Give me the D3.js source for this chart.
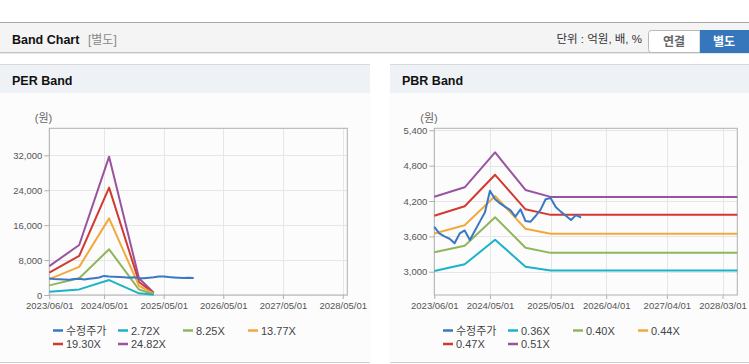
<!DOCTYPE html>
<html><head><meta charset="utf-8">
<script src="https://cdn.jsdelivr.net/npm/d3@7"></script>
<style>
html,body{margin:0;padding:0;background:#fff;}
svg{display:block;font-family:"Liberation Sans","Noto Sans CJK KR",sans-serif;}
</style></head>
<body><svg id="c" width="749" height="364"></svg>
<script>
// ---------- data ----------
const priceDates = ["2023-06-01","2023-07-01","2023-08-01","2023-09-01","2023-10-01","2023-11-01","2023-12-01","2024-01-01","2024-02-01","2024-03-01","2024-04-01","2024-05-01","2024-06-01","2024-07-01","2024-08-01","2024-09-01","2024-10-01","2024-11-01","2024-12-01","2025-01-01","2025-02-01","2025-03-01","2025-04-01","2025-05-01","2025-06-01","2025-07-01","2025-08-01","2025-09-01","2025-10-01","2025-11-01"];
const priceValues = [3760,3650,3600,3560,3482,3650,3700,3538,3700,3850,4010,4375,4230,4160,4100,4047,3934,4060,3860,3849,3950,4050,4230,4250,4100,4020,3950,3878,3960,3917];

const perDates = ["2023-06-01","2023-12-01","2024-06-01","2024-12-01","2025-03-01"];
const per272 = [740,1280,3420,380,60];
const per825 = [2200,3850,10470,1250,170];
const per1377 = [3650,6450,17560,2100,290];
const per1930 = [5130,8940,24600,2980,400];
const per2482 = [6620,11460,31700,3830,530];

const pbrDates = ["2023-06-01","2023-12-01","2024-06-01","2024-12-01","2025-05-01","2028-05-29"];
const pbr036 = [3012,3126,3543,3085,3020,3020];
const pbr040 = [3330,3442,3925,3408,3320,3320];
const pbr044 = [3650,3788,4285,3730,3645,3645];
const pbr047 = [3950,4110,4645,4059,3965,3965];
const pbr051 = [4273,4433,5025,4387,4270,4270];

const perTicksY = [0,8000,16000,24000,32000];
const pbrTicksY = [3000,3600,4200,4800,5400];
const perTicksX = ["2023-06-01","2024-05-01","2025-05-01","2026-05-01","2027-05-01","2028-05-01"];
const pbrTicksX = ["2023-06-01","2024-05-01","2025-05-01","2026-04-01","2027-04-01","2028-03-01"];
const xStart = "2023-06-01", xEnd = "2028-05-29";

const perLegend = ["수정주가","2.72X","8.25X","13.77X","19.30X","24.82X"];
const pbrLegend = ["수정주가","0.36X","0.40X","0.44X","0.47X","0.51X"];
const colors = ["#3a78c3","#1cb2c8","#8fb65a","#f2a93b","#d23a2f","#9954a0"];

// ---------- drawing ----------
const parse = d3.timeParse("%Y-%m-%d");
const fmtX = d3.timeFormat("%Y/%m/%d");
const svg = d3.select("#c");

// top header bar
svg.append("rect").attr("x",0).attr("y",22).attr("width",749).attr("height",31).attr("fill","#f4f4f4");
svg.append("line").attr("x1",0).attr("x2",749).attr("y1",22.5).attr("y2",22.5).attr("stroke","#a8a8a8");
svg.append("line").attr("x1",0).attr("x2",749).attr("y1",52.5).attr("y2",52.5).attr("stroke","#c4c4c4");
svg.append("line").attr("x1",0).attr("x2",749).attr("y1",53.5).attr("y2",53.5).attr("stroke","#e8e8e8");
svg.append("text").attr("x",12).attr("y",43.5).attr("font-size","12.5px").attr("font-weight","bold").attr("fill","#111").text("Band Chart");
svg.append("text").attr("x",88).attr("y",43.5).attr("font-size","12px").attr("fill","#888").text("[별도]");
svg.append("text").attr("x",642).attr("y",43).attr("text-anchor","end").attr("font-size","11.5px").attr("fill","#333").text("단위 : 억원, 배, %");
svg.append("path").attr("d","M700,30.5 H651.5 Q648.5,30.5 648.5,33.5 V49.5 Q648.5,52.5 651.5,52.5 H700 Z").attr("fill","#fff").attr("stroke","#b8b8b8");
svg.append("text").attr("x",674).attr("y",45.5).attr("text-anchor","middle").attr("font-size","12px").attr("font-weight","bold").attr("fill","#666").text("연결");
svg.append("rect").attr("x",700).attr("y",30).attr("width",49).attr("height",23).attr("fill","#3677bb");
svg.append("text").attr("x",724).attr("y",45.5).attr("text-anchor","middle").attr("font-size","12px").attr("font-weight","bold").attr("fill","#fff").text("별도");

function panel(px, pw, title, cfg){
  const g = svg.append("g");
  g.append("rect").attr("x",px).attr("y",64).attr("width",pw).attr("height",300).attr("fill","#fcfcfd");
  g.append("rect").attr("x",px).attr("y",65).attr("width",pw).attr("height",28).attr("fill","#eef2f7");
  g.append("line").attr("x1",px).attr("x2",px+pw).attr("y1",64.5).attr("y2",64.5).attr("stroke","#d8d8d8");
  g.append("line").attr("x1",px).attr("x2",px+pw).attr("y1",362.5).attr("y2",362.5).attr("stroke","#d0d0d0");
  g.append("text").attr("x",px+12).attr("y",85).attr("font-size","12.5px").attr("font-weight","bold").attr("fill","#111").text(title);

  const L = cfg.left, R = px+347.3, T = 128.3, B = 295;
  const x = d3.scaleTime().domain([parse(xStart), parse(xEnd)]).range([L, R]);
  const y = d3.scaleLinear().domain(cfg.yDomain).range([B, T]);

  // grid
  g.append("g").selectAll("line").data(cfg.yTicks).join("line")
    .attr("x1",L).attr("x2",R).attr("y1",d=>Math.round(y(d))+0.5).attr("y2",d=>Math.round(y(d))+0.5)
    .attr("stroke","#e6e6e6");
  g.append("g").selectAll("line").data(cfg.xTicks.map(parse)).join("line")
    .attr("x1",d=>Math.round(x(d))+0.5).attr("x2",d=>Math.round(x(d))+0.5).attr("y1",T).attr("y2",B)
    .attr("stroke","#e6e6e6");

  // axes
  const ya = d3.axisLeft(y).tickValues(cfg.yTicks).tickSize(5).tickPadding(2).tickFormat(d3.format(","));
  const yg = g.append("g").attr("transform",`translate(${L},0)`).call(ya);
  const xa = d3.axisBottom(x).tickValues(cfg.xTicks.map(parse)).tickSize(4).tickPadding(3).tickFormat(fmtX);
  const xg = g.append("g").attr("transform",`translate(0,${B})`).call(xa);
  [yg,xg].forEach(a=>{
    a.select(".domain").remove();
    a.selectAll("line").attr("stroke","#b0b0b0");
    a.selectAll("text").attr("fill","#555").attr("font-size","9.5px").attr("font-family","'Liberation Sans',sans-serif");
  });
  g.append("rect").attr("x",L).attr("y",T).attr("width",R-L).attr("height",B-T)
    .attr("fill","none").attr("stroke","#b0b0b0");
  g.append("text").attr("x",cfg.unitX).attr("y",122).attr("text-anchor","middle").attr("font-size","11px").attr("fill","#666").text("(원)");

  // lines
  const line = d3.line().x(d=>x(d[0])).y(d=>y(d[1]));
  cfg.series.forEach((s,i)=>{
    g.append("path").datum(s.dates.map((d,j)=>[parse(d), s.values[j]]))
      .attr("d",line).attr("fill","none").attr("stroke",colors[s.c]).attr("stroke-width",2)
      .attr("stroke-linejoin","round");
  });

  // legend
  const colX = [53,118,183,248];
  cfg.legend.forEach((name,i)=>{
    const row = Math.floor(i/4), col = i%4;
    const lx = px+colX[col], ly = row ? 344 : 330.5;
    g.append("line").attr("x1",lx).attr("x2",lx+10).attr("y1",ly).attr("y2",ly).attr("stroke",colors[i]).attr("stroke-width",2.5);
    g.append("text").attr("x",lx+13).attr("y",ly+4).attr("font-size","11px").attr("fill","#444").text(name);
  });
}

panel(0, 370, "PER Band", {
  left: 49.3, yDomain:[0,38200], yTicks: perTicksY, xTicks: perTicksX, unitX: 43.5, legend: perLegend,
  series: [
    {dates: perDates, values: per2482, c:5},
    {dates: perDates, values: per1930, c:4},
    {dates: perDates, values: per1377, c:3},
    {dates: perDates, values: per825, c:2},
    {dates: perDates, values: per272, c:1},
    {dates: priceDates, values: priceValues, c:0}
  ]
});
panel(390, 359, "PBR Band", {
  left: 434.3, yDomain:[2605,5434], yTicks: pbrTicksY, xTicks: pbrTicksX, unitX: 429, legend: pbrLegend,
  series: [
    {dates: pbrDates, values: pbr051, c:5},
    {dates: pbrDates, values: pbr047, c:4},
    {dates: pbrDates, values: pbr044, c:3},
    {dates: pbrDates, values: pbr040, c:2},
    {dates: pbrDates, values: pbr036, c:1},
    {dates: priceDates, values: priceValues, c:0}
  ]
});
</script></body></html>
